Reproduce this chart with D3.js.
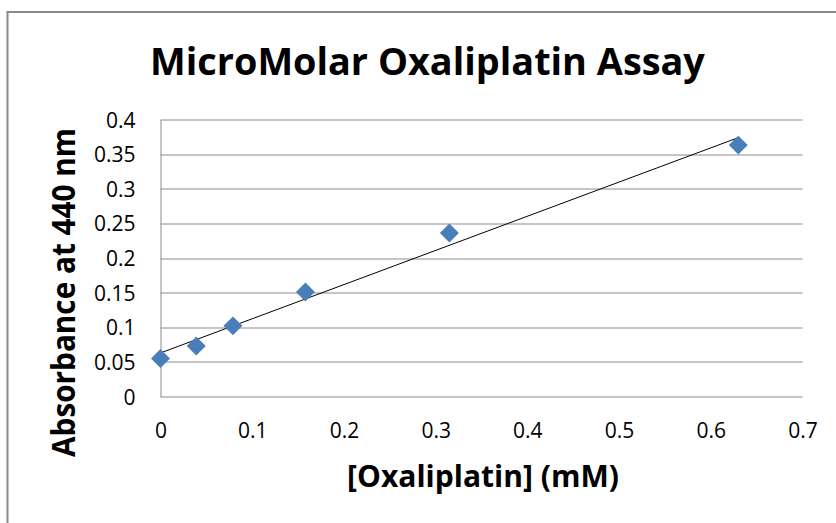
<!DOCTYPE html>
<html>
<head>
<meta charset="utf-8">
<script src="https://d3js.org/d3.v7.min.js"></script>
<style>
    body { margin: 0; background: #fff; }
    text { font-family: "Open Sans", "Noto Sans", sans-serif; fill: #000; }
</style>
</head>
<body>
<div id="chart"></div>
<script>
// data
var concentration = [0, 0.039, 0.079, 0.158, 0.315, 0.63];
var absorbance = [0.055, 0.073, 0.102, 0.151, 0.236, 0.363];
var xTicks = [0, 0.1, 0.2, 0.3, 0.4, 0.5, 0.6, 0.7];
var yTicks = [0, 0.05, 0.1, 0.15, 0.2, 0.25, 0.3, 0.35, 0.4];

var chartTitle = "MicroMolar Oxaliplatin Assay";
var xTitle = "[Oxaliplatin] (mM)";
var yTitle = "Absorbance at 440 nm";

var margin = { top: 119.5, right: 33.5, bottom: 126.5, left: 160.5 },
    width = 836 - margin.left - margin.right,
    height = 523 - margin.top - margin.bottom;

var svg_root = d3.select("#chart")
    .append("svg")
    .attr("width", 836)
    .attr("height", 523);

// chart area border (runs off the right and bottom edges)
svg_root.append("rect")
    .attr("x", 7.5)
    .attr("y", 12)
    .attr("width", 900)
    .attr("height", 600)
    .style("fill", "#fff")
    .style("stroke", "#898989")
    .style("stroke-width", 2);

var svg = svg_root.append("g")
    .attr("transform", "translate(" + margin.left + "," + margin.top + ")");

var x = d3.scaleLinear().domain([0, 0.7]).range([0, width]);
var y = d3.scaleLinear().domain([0, 0.4]).range([height, 0]);

// horizontal gridlines
svg.selectAll(".grid")
    .data(yTicks)
    .enter().append("line")
    .attr("class", "grid")
    .attr("x1", 0)
    .attr("x2", width)
    .attr("y1", function (d) { return Math.round(y(d)) + 0.5; })
    .attr("y2", function (d) { return Math.round(y(d)) + 0.5; })
    .style("stroke", "#8c8c8c")
    .style("stroke-width", 1);

// y axis
var yAxis = svg.append("g")
    .call(d3.axisLeft(y).tickValues(yTicks).tickSize(0).tickPadding(25)
        .tickFormat(function (d) { return String(+d.toFixed(2)); }));
yAxis.select(".domain").style("stroke", "#8c8c8c");
yAxis.selectAll("text")
    .style("font-size", "21px")
    .attr("dy", "0.36em");

// x axis
var xAxis = svg.append("g")
    .attr("transform", "translate(0," + height + ")")
    .call(d3.axisBottom(x).tickValues(xTicks).tickSize(0).tickPadding(25)
        .tickFormat(function (d) { return String(+d.toFixed(1)); }));
xAxis.select(".domain").remove();
xAxis.selectAll("text")
    .style("font-size", "21px")
    .attr("dy", "0.36em")
    .attr("y", 34);

// linear trendline (least squares)
var points = concentration.map(function (c, i) { return { x: c, y: absorbance[i] }; });
var mx = d3.mean(points, function (d) { return d.x; });
var my = d3.mean(points, function (d) { return d.y; });
var sxy = d3.sum(points, function (d) { return (d.x - mx) * (d.y - my); });
var sxx = d3.sum(points, function (d) { return (d.x - mx) * (d.x - mx); });
var slope = sxy / sxx;
var intercept = my - slope * mx;
var xEnd = d3.max(concentration);

svg.append("line")
    .attr("x1", x(0))
    .attr("y1", y(intercept))
    .attr("x2", x(xEnd))
    .attr("y2", y(intercept + slope * xEnd))
    .style("stroke", "#000")
    .style("stroke-width", 1);

// diamond markers
svg.selectAll(".dot")
    .data(points)
    .enter().append("path")
    .attr("class", "dot")
    .attr("d", d3.symbol().type(d3.symbolSquare).size(180))
    .attr("transform", function (d) {
        return "translate(" + x(d.x) + "," + y(d.y) + ") rotate(45)";
    })
    .style("fill", "#4a7ebb");

// bold label squeezed sideways to the wanted width, keeping its height
function squeezedLabel(txt, size, place, target) {
    var t = svg_root.append("text")
        .style("text-anchor", "middle")
        .style("font-weight", "bold")
        .style("font-size", size + "px")
        .text(txt);
    var w = t.node().getComputedTextLength();
    t.attr("transform", place + " scale(" + (target / w) + ",1)");
    return t;
}

squeezedLabel(chartTitle, 38, "translate(427.5,75)", 555);
squeezedLabel(xTitle, 31, "translate(483,487)", 272);
squeezedLabel(yTitle, 32, "translate(75,292.5) rotate(-90)", 329);
</script>
</body>
</html>
